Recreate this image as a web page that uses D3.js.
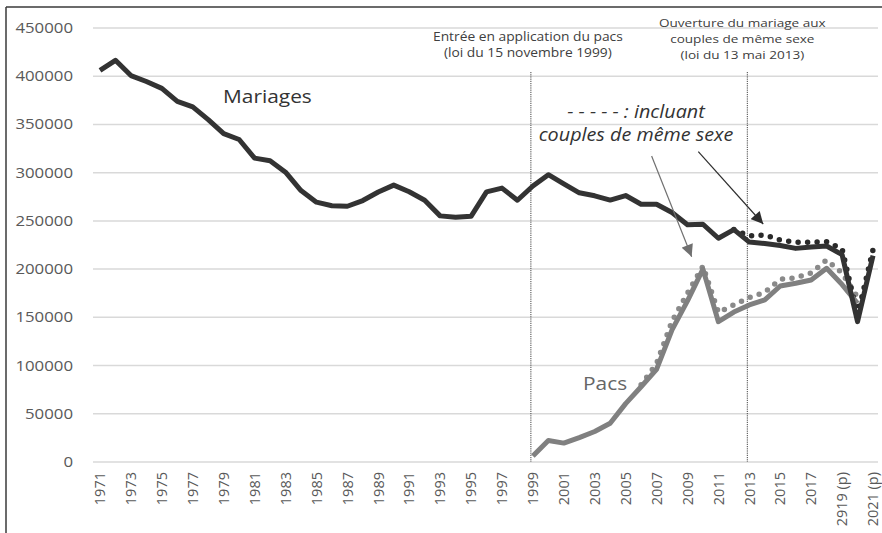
<!DOCTYPE html>
<html><head><meta charset="utf-8">
<script src="https://cdn.jsdelivr.net/npm/d3@7"></script>
<style>html,body{margin:0;padding:0;background:#fff;}svg{display:block;font-family:"Open Sans",sans-serif;}</style>
</head><body>
<svg id="c" width="882" height="533"></svg>
<script>
const years = d3.range(1971, 2022);
const xLabels = years.map((y, i) => i % 2 ? "" : (y === 2019 ? "2919 (p)" : y === 2021 ? "2021 (p)" : String(y)));
const yTicks = [0, 50000, 100000, 150000, 200000, 250000, 300000, 350000, 400000, 450000];

const mariages = [406000,416500,400700,394500,387400,374000,368200,355000,340400,334400,
  315100,312400,300500,281400,269400,265700,265200,271100,279900,287100,
  280200,271400,255200,253700,254700,280100,284000,271400,286200,297900,
  288300,279100,276000,271600,276300,267300,267200,258700,246000,246500,
  232000,241000,228000,226500,224500,221500,223000,224000,215000,145500,214000];
const mariagesTotal = [null,null,null,null,null,null,null,null,null,null,
  null,null,null,null,null,null,null,null,null,null,
  null,null,null,null,null,null,null,null,null,null,
  null,null,null,null,null,null,null,null,null,null,
  null,241000,234400,235400,230200,227800,227800,228400,221000,152000,220000];
const pacs = [null,null,null,null,null,null,null,null,null,null,
  null,null,null,null,null,null,null,null,null,null,
  null,null,null,null,null,null,null,null,6200,22300,
  19600,25300,31600,40100,60500,78000,96000,137000,167000,200000,
  145500,155500,162800,168000,182500,185300,188700,200900,184000,164500,null];
const pacsTotal = [null,null,null,null,null,null,null,null,null,null,
  null,null,null,null,null,null,null,null,null,null,
  null,null,null,null,null,null,null,null,null,null,
  null,null,null,null,null,80000,102000,146000,175000,203000,
  155000,163000,170500,176000,189500,191000,196000,209500,196000,171000,null];

const svg = d3.select("#c");
const x = d3.scalePoint().domain(years).range([100, 873]);
const y = d3.scaleLinear().domain([0, 450000]).range([462, 28]);
const step = x.step();
const xi = i => x(years[0]) + i * step; // fractional year index -> px (annotations)

// frame
svg.append("line").attr("x1",6).attr("x2",882).attr("y1",7).attr("y2",7).attr("stroke","#3a3a3a").attr("stroke-width",1.5);
svg.append("line").attr("x1",6).attr("x2",6).attr("y1",7).attr("y2",533).attr("stroke","#3a3a3a").attr("stroke-width",1.5);

// grid
svg.append("g").selectAll("line").data(yTicks).join("line")
  .attr("x1",93).attr("x2",878).attr("y1",d=>y(d)).attr("y2",d=>y(d))
  .attr("stroke","#d9d9d9").attr("stroke-width",1.5);

// y labels
svg.append("g").selectAll("text").data(yTicks).join("text")
  .attr("transform",d=>`translate(73,${y(d)}) scale(1.2,1)`)
  .attr("text-anchor","end").attr("dy","0.36em")
  .attr("font-size",14).attr("fill","#595959").text(d=>d);

// x labels
svg.append("g").selectAll("text").data(years.map((yr,i)=>({yr,l:xLabels[i]})).filter(d=>d.l)).join("text")
  .attr("transform",d=>`translate(${x(d.yr)},472) rotate(-90)`)
  .attr("text-anchor","end").attr("dy","0.36em")
  .attr("font-size",14.5).attr("fill","#595959").text(d=>d.l);

// vertical event lines
[1999, 2013].forEach(yr => {
  svg.append("line").attr("x1",x(yr)-2).attr("x2",x(yr)-2).attr("y1",72).attr("y2",y(0))
    .attr("stroke","#444").attr("stroke-width",1).attr("stroke-dasharray","1.2 1");
});

const line = d3.line().defined(d=>d.v!=null).x(d=>x(d.yr)).y(d=>y(d.v));
const ser = arr => years.map((yr,i)=>({yr,v:arr[i]}));

// dotted series
svg.append("path").datum(ser(pacsTotal)).attr("d",line).attr("fill","none")
  .attr("stroke","#8a8a8a").attr("stroke-width",5.5).attr("stroke-linecap","round").attr("stroke-dasharray","0 9.5");
svg.append("path").datum(ser(mariagesTotal)).attr("d",line).attr("fill","none")
  .attr("stroke","#2a2a2a").attr("stroke-width",5.5).attr("stroke-linecap","round").attr("stroke-dasharray","0 9.5");
// solid series
svg.append("path").datum(ser(pacs)).attr("d",line).attr("fill","none")
  .attr("stroke","#808080").attr("stroke-width",5).attr("stroke-linejoin","round");
svg.append("path").datum(ser(mariages)).attr("d",line).attr("fill","none")
  .attr("stroke","#333333").attr("stroke-width",5).attr("stroke-linejoin","round");

// arrow markers
const defs = svg.append("defs");
[["ag","#707070"],["ab","#2e2e2e"]].forEach(([id,c])=>{
  defs.append("marker").attr("id",id).attr("viewBox","0 0 10 10").attr("refX",10).attr("refY",5)
    .attr("markerWidth",13).attr("markerHeight",12).attr("markerUnits","userSpaceOnUse").attr("orient","auto")
    .append("path").attr("d","M0,0 L10,5 L0,10 Z").attr("fill",c);
});
svg.append("line").attr("x1",xi(35.68)).attr("y1",y(317300)).attr("x2",xi(38.27)).attr("y2",y(212900))
  .attr("stroke","#707070").attr("stroke-width",1.2).attr("marker-end","url(#ag)");
svg.append("line").attr("x1",xi(38.7)).attr("y1",y(321800)).attr("x2",xi(42.9)).attr("y2",y(246800))
  .attr("stroke","#2e2e2e").attr("stroke-width",1.2).attr("marker-end","url(#ab)");

// texts
function txt(t, px, py, size, opts={}) {
  svg.append("text").attr("transform",`translate(${px},${py}) scale(${opts.sx||1.13},1)`)
    .attr("text-anchor",opts.anchor||"middle").attr("font-size",size)
    .attr("font-style",opts.italic?"italic":"normal")
    .attr("fill",opts.fill||"#404040").text(t);
}
const c1 = x(1999)-5, c2 = x(2013)-7;
txt("Entrée en application du pacs", c1, 41, 11.8, {sx:1.17});
txt("(loi du 15 novembre 1999)", c1, 57, 11.8, {sx:1.17});
txt("Ouverture du mariage aux", c2, 27, 11.6, {sx:1.17});
txt("couples de même sexe", c2, 43, 11.6, {sx:1.17});
txt("(loi du 13 mai 2013)", c2, 59, 11.6, {sx:1.17});
txt("- - - - - : incluant", 636, 118, 17.5, {italic:true, fill:"#333"});
txt("couples de même sexe", 636, 141, 17.5, {italic:true, fill:"#333"});
txt("Mariages", 223, 103, 18.5, {anchor:"start", fill:"#333"});
txt("Pacs", 583, 390, 18.5, {anchor:"start", fill:"#666"});
</script>
</body></html>
